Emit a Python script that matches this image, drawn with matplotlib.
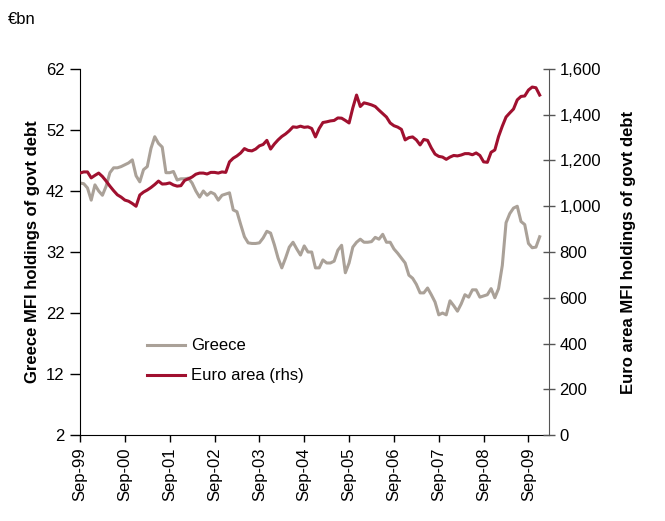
import numpy as np
import matplotlib.pyplot as plt

plt.rcParams['font.family'] = ['Liberation Sans', 'DejaVu Sans']

# monthly data, Sep-99 to Dec-09
greece = [43.3, 43.2, 42.5, 40.5, 43.0, 42.0, 41.3, 42.8, 45.0, 45.8,
          45.8, 46.0, 46.3, 46.6, 47.1, 44.5, 43.5, 45.5, 46.0, 49.0,
          50.9, 49.8, 49.2, 45.0, 45.0, 45.2, 43.8, 44.0, 44.0, 44.1,
          43.3, 42.0, 41.0, 42.0, 41.3, 41.8, 41.5, 40.5, 41.3, 41.5,
          41.7, 38.9, 38.6, 36.5, 34.5, 33.5, 33.4, 33.4, 33.5, 34.3,
          35.4, 35.1, 33.2, 31.0, 29.4, 31.0, 32.8, 33.6, 32.5, 31.5,
          33.0, 32.0, 32.0, 29.4, 29.4, 30.7, 30.2, 30.2, 30.5, 32.3,
          33.1, 28.6, 30.2, 32.8, 33.6, 34.1, 33.6, 33.6, 33.7, 34.4,
          34.1, 34.9, 33.6, 33.6, 32.5, 31.8, 31.0, 30.2, 28.2, 27.7,
          26.7, 25.3, 25.3, 26.1, 25.0, 23.8, 21.7, 22.0, 21.7, 24.0,
          23.2, 22.3, 23.5, 25.0, 24.6, 25.8, 25.8, 24.6, 24.8, 25.0,
          26.0, 24.5, 26.0, 29.8, 36.8, 38.3, 39.2, 39.5, 37.0, 36.5,
          33.4, 32.7, 32.8, 34.5]

euro_area = [1145, 1150, 1150, 1124, 1135, 1145, 1130, 1110, 1088, 1068,
             1050, 1040, 1027, 1022, 1012, 1000, 1049, 1062, 1071, 1082,
             1095, 1110, 1097, 1098, 1102, 1093, 1088, 1090, 1113, 1120,
             1128, 1140, 1145, 1145, 1141, 1148, 1148, 1145, 1150, 1148,
             1194, 1210, 1220, 1233, 1252, 1244, 1242, 1250, 1264, 1270,
             1288, 1250, 1272, 1290, 1305, 1316, 1330, 1347, 1345, 1350,
             1345, 1347, 1340, 1303, 1340, 1366, 1369, 1373, 1375, 1386,
             1385, 1375, 1364, 1430, 1486, 1436, 1452, 1448, 1443, 1436,
             1420, 1405, 1390, 1364, 1352, 1346, 1336, 1290, 1300, 1303,
             1290, 1268, 1292, 1288, 1255, 1228, 1218, 1215, 1205, 1215,
             1222, 1220, 1224, 1230, 1230, 1225, 1233, 1222, 1194, 1192,
             1236, 1246, 1305, 1350, 1390, 1408, 1425, 1465, 1480, 1482,
             1508, 1521, 1518, 1486]

tick_labels = ['Sep-99', 'Sep-00', 'Sep-01', 'Sep-02', 'Sep-03', 'Sep-04',
               'Sep-05', 'Sep-06', 'Sep-07', 'Sep-08', 'Sep-09']

months = np.arange(len(greece))

grey = '#aaa198'
red = '#a0102f'

fig = plt.figure(figsize=(6.65, 5.21), dpi=100)
ax = fig.add_axes([0.1203, 0.165, 0.7053, 0.7026])
ax2 = ax.twinx()

l1, = ax.plot(months, greece, color=grey, linewidth=2.2, label='Greece')
l2, = ax2.plot(months, euro_area, color=red, linewidth=2.2, label='Euro area (rhs)')

ax.set_xlim(0, 125.5)
ax.set_ylim(2, 62)
ax.set_yticks(np.arange(2, 63, 10))
ax.set_xticks(np.arange(0, 121, 12))
ax.set_xticklabels(tick_labels, rotation=90)
ax2.set_ylim(0, 1600)
ax2.set_yticks(np.arange(0, 1601, 200))
ax2.set_yticklabels([f'{v:,}' for v in range(0, 1601, 200)])

for a in (ax, ax2):
    a.spines['top'].set_visible(False)
ax.spines['right'].set_visible(False)
ax2.spines['left'].set_visible(False)
ax2.spines['bottom'].set_visible(False)
ax2.spines['right'].set_color('#555555')

ax.tick_params(axis='y', labelsize=12, direction='out', length=7, width=1, pad=4)
ax.tick_params(axis='x', labelsize=12, direction='out', length=5, width=1, pad=4)
ax2.tick_params(axis='y', labelsize=12, direction='inout', length=8, width=1,
                color='#555555')

ax.set_ylabel('Greece MFI holdings of govt debt', fontsize=12, fontweight='bold', labelpad=4)
ax2.set_ylabel('Euro area MFI holdings of govt debt', fontsize=12, fontweight='bold', labelpad=14)

fig.text(0.012, 0.962, '€bn', fontsize=12, va='center')

ax2.legend(handles=[l1, l2], loc='lower left', bbox_to_anchor=(0.11, 0.1),
           frameon=False, fontsize=12, handlelength=2.3, handletextpad=0.35,
           labelspacing=0.9)

fig.savefig('out.png', dpi=100)
